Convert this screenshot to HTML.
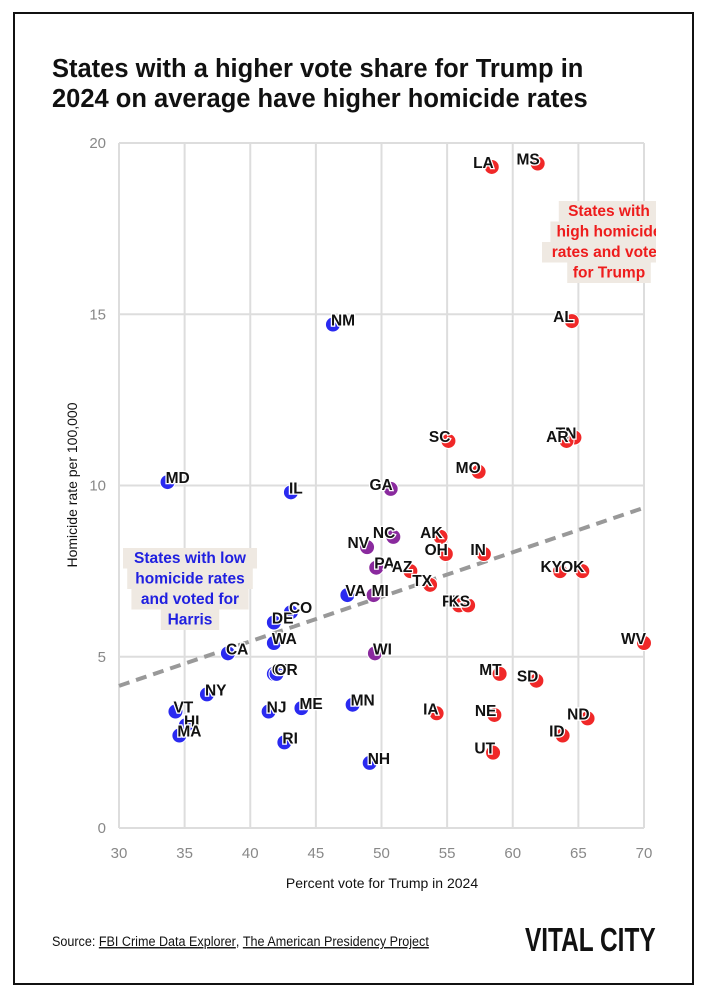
<!DOCTYPE html>
<html><head><meta charset="utf-8"><style>
html,body{margin:0;padding:0;background:#fff;}
svg{display:block;font-family:"Liberation Sans",sans-serif;}
</style></head><body>
<svg id="chart" width="708" height="1000" viewBox="0 0 708 1000">
<rect x="14" y="13" width="679" height="971" fill="#fff" stroke="#111" stroke-width="2"/>
<text x="52" y="77" font-size="25.5" font-weight="bold" fill="#111">States with a higher vote share for Trump in</text>
<text x="52" y="107" font-size="25.5" font-weight="bold" fill="#111">2024 on average have higher homicide rates</text>
<defs><clipPath id="pc"><rect x="100" y="120" width="556" height="730"/></clipPath></defs>
<g id="grid"></g>
<g id="xticks"></g>
<g id="yticks"></g>
<text x="382" y="888" font-size="14" text-anchor="middle" fill="#111">Percent vote for Trump in 2024</text>
<text transform="translate(77,485) rotate(-90)" font-size="14" text-anchor="middle" fill="#111">Homicide rate per 100,000</text>
<g id="plot" clip-path="url(#pc)"></g>
<text x="52" y="946" font-size="14" fill="#111" transform="translate(52,0) scale(0.9,1) translate(-52,0)">Source: <tspan text-decoration="underline">FBI Crime Data Explorer</tspan>, <tspan text-decoration="underline">The American Presidency Project</tspan></text>
<text x="525" y="951" font-size="33" font-weight="bold" fill="#111" transform="translate(525,0) scale(0.74,1) translate(-525,0)">VITAL CITY</text>
</svg>
<script>
const states=["LA","MS","AL","TN","AR","NM","SC","MO","MD","IL","GA","NC","NV","AK","OH","IN","PA","AZ","TX","VA","MI","FL","KS","KY","OK","WV","WI","MT","SD","IA","NE","ND","ID","UT","NH","MN","ME","NJ","RI","DE","CO","WA","CT","OR","CA","NY","VT","HI","MA"];
const trumpShare=[58.4,61.9,64.5,64.7,64.1,46.3,55.1,57.4,33.7,43.1,50.7,50.9,48.9,54.5,54.9,57.8,49.6,52.2,53.7,47.4,49.4,55.9,56.6,63.6,65.3,70.0,49.5,59.0,61.8,54.2,58.6,65.7,63.8,58.5,49.1,47.8,43.9,41.4,42.6,41.8,43.1,41.8,41.8,42.0,38.3,36.7,34.3,35.1,34.6];
const homicideRate=[19.3,19.4,14.8,11.4,11.3,14.7,11.3,10.4,10.1,9.8,9.9,8.5,8.2,8.5,8.0,8.0,7.6,7.5,7.1,6.8,6.8,6.5,6.5,7.5,7.5,5.4,5.1,4.5,4.3,3.35,3.3,3.2,2.7,2.2,1.9,3.6,3.5,3.4,2.5,6.0,6.3,5.4,4.5,4.5,5.1,3.9,3.4,3.0,2.7];
const group=["R","R","R","R","R","D","R","R","D","D","S","S","S","R","R","R","S","R","R","D","S","R","R","R","R","R","S","R","R","R","R","R","R","R","D","D","D","D","D","D","D","D","D","D","D","D","D","D","D"];
const xTicks=[30,35,40,45,50,55,60,65,70];
const yTicks=[0,5,10,15,20];
const trendStart=[30,4.15];
const trendEnd=[70,9.35];
const NS="http://www.w3.org/2000/svg";
const X=v=>119+(v-30)*13.125;
const Y=v=>828-v*34.25;
const colors={R:"#f02828",D:"#2a2af0",S:"#8a2a9e"};
function mk(tag,attrs,parent){const e=document.createElementNS(NS,tag);for(const k in attrs)e.setAttribute(k,attrs[k]);parent.appendChild(e);return e;}
const grid=document.getElementById('grid'),xt=document.getElementById('xticks'),yt=document.getElementById('yticks'),plot=document.getElementById('plot');
xTicks.forEach(t=>{
 const l=mk('line',{x1:X(t),x2:X(t),y1:Y(20),y2:Y(0),stroke:"#ddd","stroke-width":2},grid);
 
 
 const tx=mk('text',{x:X(t),y:858,"font-size":15,"text-anchor":"middle",fill:"#888"},xt);tx.textContent=t;
 
 
});
yTicks.forEach(t=>{
 const l=mk('line',{x1:X(30),x2:X(70),y1:Y(t),y2:Y(t),stroke:"#ddd","stroke-width":2},grid);
 
 
 const tx=mk('text',{x:106,y:Y(t)+5,"font-size":15,"text-anchor":"end",fill:"#888"},yt);tx.textContent=t;
 
 
});
const tl=mk('line',{x1:X(trendStart[0]),y1:Y(trendStart[1]),x2:X(trendEnd[0]),y2:Y(trendEnd[1]),stroke:"#999","stroke-width":4,"stroke-dasharray":"11,7"},plot);


function note(lines,cx,y0,col,name){
 const g=mk('g',{},plot);
 
 
 lines.forEach((s,i)=>{
  const w=s.length*8.4+8;
  mk('rect',{x:cx-w/2,y:y0+i*20.5-15,width:w,height:20.5,fill:"#efe9e2"},g);
  const t=mk('text',{x:cx,y:y0+i*20.5,"font-size":15.5,"font-weight":"bold","text-anchor":"middle",fill:col},g);t.textContent=s;
 });
}
note(["States with low","homicide rates","and voted for","Harris"],190,563,"#2020e0","harris-annotation");
note(["States with","high homicide","rates and voted","for Trump"],609,216,"#ee1c1c","trump-annotation");
const endLab=["GA","NC","NV"];
states.forEach((s,i)=>{
 const cx=X(trumpShare[i]),cy=Y(homicideRate[i]);
 const c=mk('circle',{cx:cx,cy:cy,r:7.5,fill:colors[group[i]],stroke:"#fff","stroke-width":1},plot);
 
 
});
states.forEach((s,i)=>{
 const cx=X(trumpShare[i]),cy=Y(homicideRate[i]);
 const end=group[i]==="R"||endLab.includes(s);
 const t=mk('text',{x:end?cx+2:cx-2,y:cy+1,"font-size":15.5,"font-weight":"bold","text-anchor":end?"end":"start",fill:"#111",stroke:"#fff","stroke-width":2.5,"paint-order":"stroke"},plot);
 t.textContent=s;
 
 
});
</script>
</body></html>
